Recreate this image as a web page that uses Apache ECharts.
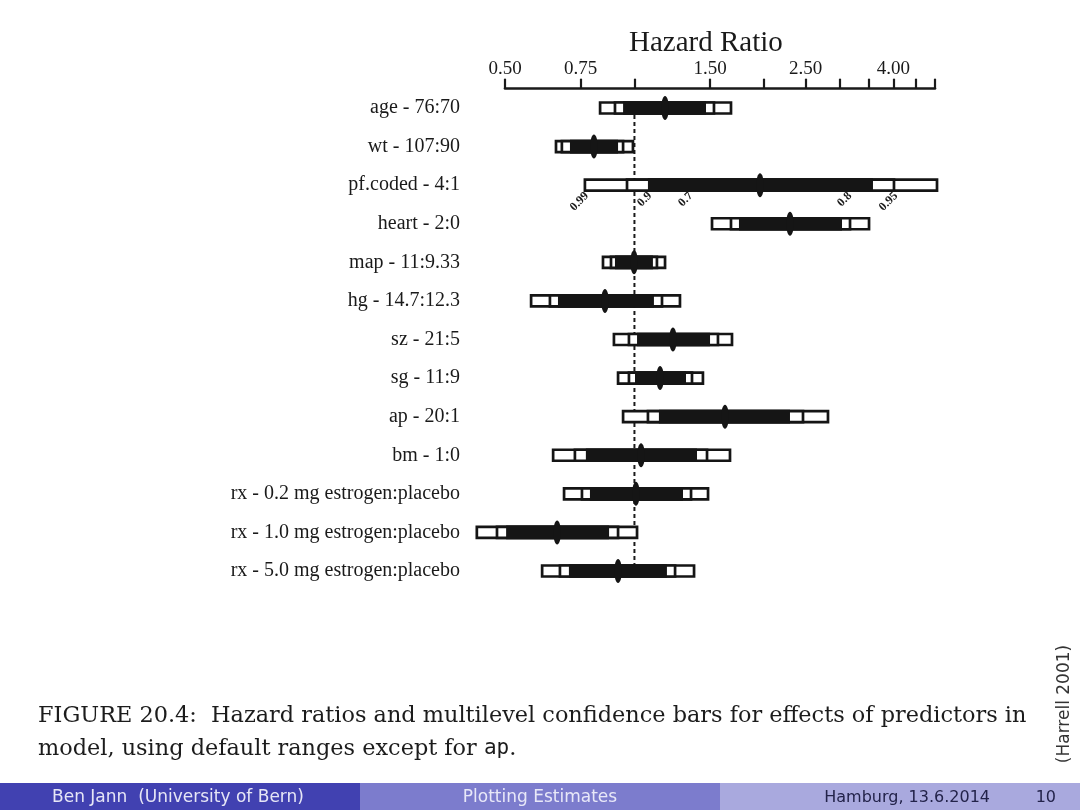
<!DOCTYPE html>
<html>
<head>
<meta charset="utf-8">
<script src="https://cdn.jsdelivr.net/npm/echarts@6/dist/echarts.min.js"></script>
<style>
  html, body { margin: 0; padding: 0; background: #ffffff; }
  #chart { width: 1080px; height: 810px; }
</style>
</head>
<body>
<div id="chart"></div>
<script>
// ---- data (hazard ratios) ----
var categories = [
  'age - 76:70', 'wt - 107:90', 'pf.coded - 4:1', 'heart - 2:0', 'map - 11:9.33',
  'hg - 14.7:12.3', 'sz - 21:5', 'sg - 11:9', 'ap - 20:1', 'bm - 1:0',
  'rx - 0.2 mg estrogen:placebo', 'rx - 1.0 mg estrogen:placebo', 'rx - 5.0 mg estrogen:placebo'
];
var hr   = [1.178, 0.805, 1.959, 2.300, 0.998, 0.854, 1.229, 1.147, 1.624, 1.036, 1.008, 0.661, 0.916];
var lo99 = [0.832, 0.657, 0.767, 1.515, 0.845, 0.575, 0.896, 0.916, 0.941, 0.647, 0.686, 0.430, 0.610];
var lo95 = [0.901, 0.678, 0.961, 1.677, 0.882, 0.636, 0.971, 0.971, 1.075, 0.727, 0.755, 0.479, 0.671];
var lo90 = [0.941, 0.708, 1.075, 1.750, 0.901, 0.664, 1.014, 1.003, 1.140, 0.771, 0.788, 0.503, 0.704];
var hi90 = [1.467, 0.916, 3.587, 3.039, 1.104, 1.110, 1.499, 1.318, 2.300, 1.398, 1.297, 0.873, 1.190];
var hi95 = [1.531, 0.941, 4.014, 3.172, 1.128, 1.159, 1.564, 1.361, 2.466, 1.475, 1.354, 0.916, 1.243];
var hi99 = [1.677, 0.992, 5.054, 3.512, 1.178, 1.276, 1.686, 1.443, 2.819, 1.668, 1.483, 1.014, 1.376];

// confidence-level labels drawn under the pf.coded bar
var levelRow = 2;
var levelText = ['0.99', '0.9', '0.7', '0.8', '0.95'];
var levelPos  = [0.767, 1.075, 1.339, 3.138, 4.014];

var tickValues  = [0.5, 0.75, 1, 1.5, 2, 2.5, 3, 3.5, 4, 4.5, 5];
var labelValues = [0.5, 0.75, 1.5, 2.5, 4];
var axisMin = 0.5, axisMax = 5;
var refValue = 1;

var L = Math.log;
var barData = categories.map(function (c, i) {
  return [i, L(lo99[i]), L(lo95[i]), L(lo90[i]), L(hr[i]), L(hi90[i]), L(hi95[i]), L(hi99[i])];
});
var levelData = levelText.map(function (t, i) { return [levelRow, L(levelPos[i]), t]; });

function renderBar(params, api) {
  var row = api.value(0);
  var p = function (k) { return api.coord([api.value(k), row]); };
  var a99 = p(1), a95 = p(2), a90 = p(3), e = p(4), b90 = p(5), b95 = p(6), b99 = p(7);
  var y = e[1];
  var h = 11;
  var lw = 2.7;
  return {
    type: 'group',
    children: [
      { type: 'rect', shape: { x: a99[0], y: y - h / 2, width: b99[0] - a99[0], height: h },
        style: { fill: '#ffffff', stroke: '#151515', lineWidth: lw } },
      { type: 'rect', shape: { x: a95[0], y: y - h / 2, width: b95[0] - a95[0], height: h },
        style: { fill: '#ffffff', stroke: '#151515', lineWidth: lw } },
      { type: 'rect', shape: { x: a90[0], y: y - h / 2 - lw / 2, width: b90[0] - a90[0], height: h + lw },
        style: { fill: '#151515' } },
      { type: 'ellipse', shape: { cx: e[0], cy: y, rx: 3.8, ry: 12 },
        style: { fill: '#151515' } }
    ]
  };
}

function renderLevel(params, api) {
  var pt = api.coord([api.value(1), api.value(0)]);
  return {
    type: 'text',
    x: pt[0] + 2,
    y: pt[1] + 9,
    rotation: Math.PI / 4,
    style: {
      text: levelText[params.dataIndex],
      x: 0, y: 0,
      textAlign: 'right',
      textVerticalAlign: 'middle',
      font: 'bold 12px "Liberation Serif"',
      fill: '#1a1a1a'
    }
  };
}

var chart = echarts.init(document.getElementById('chart'), null, { renderer: 'canvas' });

var option = {
  backgroundColor: '#ffffff',
  animation: false,
  title: [
    { text: 'Hazard Ratio', left: 624, top: 24,
      textStyle: { fontFamily: 'Liberation Serif', fontSize: 29, fontWeight: 'normal', color: '#1a1a1a' } },
    { text: 'FIGURE 20.4:  Hazard ratios and multilevel confidence bars for effects of predictors in',
      left: 33, top: 700,
      textStyle: { fontFamily: 'DejaVu Serif', fontSize: 22.4, fontWeight: 'normal', color: '#1c1c1c' } },
    { text: 'model, using default ranges except for {m|ap}.',
      left: 33, top: 733,
      textStyle: { fontFamily: 'DejaVu Serif', fontSize: 22.4, fontWeight: 'normal', color: '#1c1c1c',
        rich: { m: { fontFamily: 'DejaVu Sans Mono', fontSize: 21, color: '#1c1c1c' } } } }
  ],
  grid: { left: 505, right: 145, top: 88.7, bottom: 219.7, containLabel: false },
  xAxis: {
    type: 'value',
    position: 'top',
    min: L(axisMin),
    max: L(axisMax),
    axisLine: { show: true, lineStyle: { color: '#1a1a1a', width: 2.6 } },
    axisTick: { show: true, inside: false, length: 10, lineStyle: { color: '#1a1a1a', width: 2.2 },
      customValues: tickValues.map(L) },
    axisLabel: { show: true, margin: 10, fontFamily: 'Liberation Serif', fontSize: 19, color: '#1a1a1a',
      customValues: labelValues.map(L),
      formatter: function (v) { return Math.exp(v).toFixed(2); } },
    splitLine: { show: false }
  },
  yAxis: {
    type: 'category',
    data: categories,
    inverse: true,
    axisLine: { show: false },
    axisTick: { show: false },
    axisLabel: { margin: 45, fontFamily: 'Liberation Serif', fontSize: 20, color: '#1a1a1a' },
    splitLine: { show: false }
  },
  series: [
    {
      type: 'line',
      data: [[L(refValue), 0], [L(refValue), categories.length - 1]],
      symbol: 'none',
      lineStyle: { color: '#1a1a1a', width: 2, type: [4, 3] },
      z: 1,
      silent: true
    },
    {
      type: 'custom',
      renderItem: renderBar,
      data: barData,
      encode: { x: [1, 2, 3, 4, 5, 6, 7], y: 0 },
      clip: false,
      z: 2
    },
    {
      type: 'custom',
      renderItem: renderLevel,
      data: levelData,
      encode: { x: 1, y: 0 },
      clip: false,
      z: 3
    }
  ],
  graphic: [
    { type: 'rect', shape: { x: 0, y: 783, width: 360, height: 27 }, style: { fill: '#4141b1' }, silent: true },
    { type: 'rect', shape: { x: 360, y: 783, width: 360, height: 27 }, style: { fill: '#7c7ccd' }, silent: true },
    { type: 'rect', shape: { x: 720, y: 783, width: 360, height: 27 }, style: { fill: '#a9a9de' }, silent: true },
    { type: 'text', x: 178, y: 798, style: { text: 'Ben Jann  (University of Bern)', textAlign: 'center', textVerticalAlign: 'middle',
        font: '17px "DejaVu Sans"', fill: '#e6e6f6' } },
    { type: 'text', x: 540, y: 798, style: { text: 'Plotting Estimates', textAlign: 'center', textVerticalAlign: 'middle',
        font: '17px "DejaVu Sans"', fill: '#e8e8f8' } },
    { type: 'text', x: 990, y: 798, style: { text: 'Hamburg, 13.6.2014', textAlign: 'right', textVerticalAlign: 'middle',
        font: '16px "DejaVu Sans"', fill: '#23234a' } },
    { type: 'text', x: 1056, y: 798, style: { text: '10', textAlign: 'right', textVerticalAlign: 'middle',
        font: '16px "DejaVu Sans"', fill: '#23234a' } },
    { type: 'text', x: 1065, y: 704, rotation: Math.PI / 2, style: { text: '(Harrell 2001)', textAlign: 'center', textVerticalAlign: 'middle',
        font: '17px "DejaVu Sans"', fill: '#333333' } }
  ]
};

chart.setOption(option);
</script>
</body>
</html>
